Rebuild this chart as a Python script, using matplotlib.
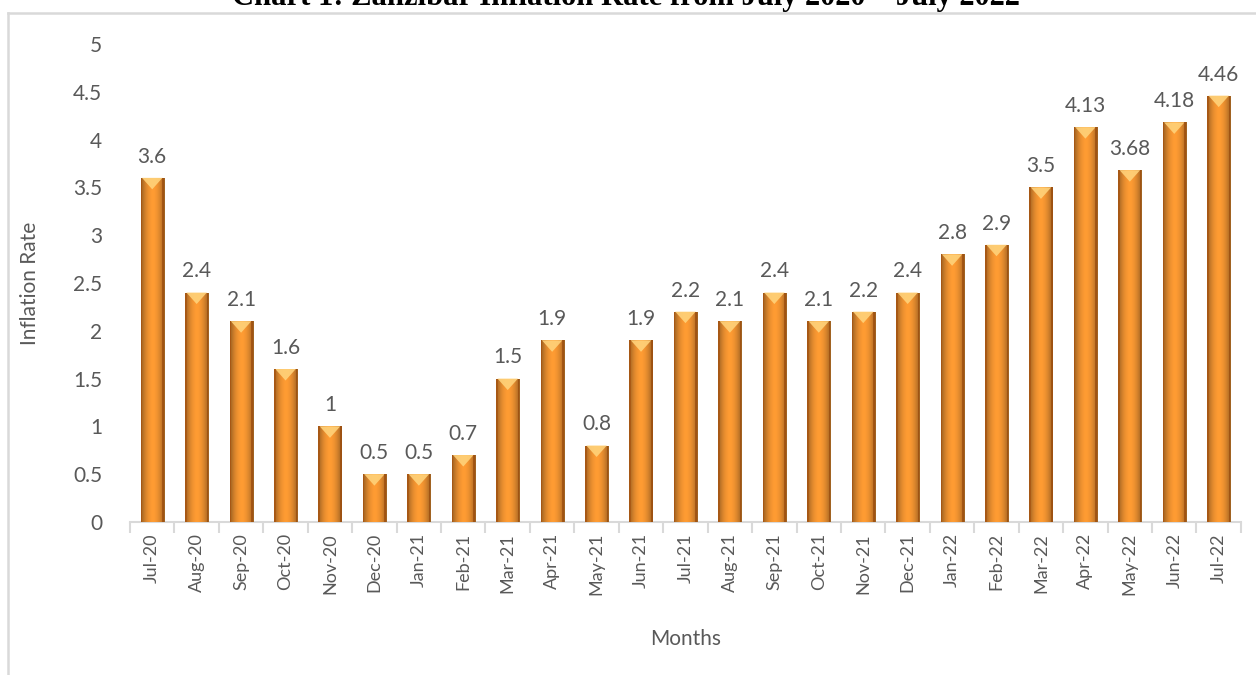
import numpy as np
import matplotlib
matplotlib.use("Agg")
import matplotlib.pyplot as plt
from matplotlib.lines import Line2D
from matplotlib.patches import Polygon

months = ["Jul-20", "Aug-20", "Sep-20", "Oct-20", "Nov-20", "Dec-20", "Jan-21",
          "Feb-21", "Mar-21", "Apr-21", "May-21", "Jun-21", "Jul-21", "Aug-21",
          "Sep-21", "Oct-21", "Nov-21", "Dec-21", "Jan-22", "Feb-22", "Mar-22",
          "Apr-22", "May-22", "Jun-22", "Jul-22"]
rates = [3.6, 2.4, 2.1, 1.6, 1, 0.5, 0.5, 0.7, 1.5, 1.9, 0.8, 1.9, 2.2, 2.1,
         2.4, 2.1, 2.2, 2.4, 2.8, 2.9, 3.5, 4.13, 3.68, 4.18, 4.46]
rate_labels = ["3.6", "2.4", "2.1", "1.6", "1", "0.5", "0.5", "0.7", "1.5", "1.9",
               "0.8", "1.9", "2.2", "2.1", "2.4", "2.1", "2.2", "2.4", "2.8", "2.9",
               "3.5", "4.13", "3.68", "4.18", "4.46"]
y_ticks = [0, 0.5, 1, 1.5, 2, 2.5, 3, 3.5, 4, 4.5, 5]

plt.rcParams['font.family'] = ['Lato', 'DejaVu Sans']
grey = "#595959"

fig = plt.figure(figsize=(12.56, 6.75), dpi=100)
ax = fig.add_axes([0.1035, 0.2267, 0.8845, 0.7081])

x = np.arange(len(months))
width = 0.52
bars = ax.bar(x, rates, width=width, color="#E5821F", zorder=2)

# horizontal gradient inside each bar (dark edges, light centre)
cols = np.linspace(-1, 1, 64)
shade = 1 - 0.4 * np.abs(cols) ** 1.8
base = np.array([0.97, 0.58, 0.17])
grad = np.clip(base[None, :] * shade[:, None] + 0.03, 0, 1)
img = grad[None, :, :]

for b, v in zip(bars, rates):
    x0 = b.get_x()
    x1 = x0 + b.get_width()
    im = ax.imshow(img, extent=[x0, x1, 0, v], aspect="auto", zorder=3,
                   interpolation="bilinear")
    im.set_clip_path(b)
    # bevel at the top
    h = 0.12
    cap = Polygon([(x0 + 0.03, v), (x1 - 0.03, v), ((x0 + x1) / 2, v - h)],
                  closed=True, facecolor="#FFD27A", edgecolor="none",
                  alpha=0.9, zorder=4)
    ax.add_patch(cap)
    ax.add_patch(Polygon([(x0, v), (x0 + 0.035, v), (x0 + 0.035, 0), (x0, 0)],
                         facecolor="#A9530F", edgecolor="none", alpha=0.7, zorder=4))
    ax.add_patch(Polygon([(x1 - 0.035, v), (x1, v), (x1, 0), (x1 - 0.035, 0)],
                         facecolor="#9A4A0C", edgecolor="none", alpha=0.7, zorder=4))

for xi, v, lab in zip(x, rates, rate_labels):
    ax.annotate(lab, (xi, v), xytext=(0, 8), textcoords="offset points",
                ha="center", va="bottom", fontsize=15, color=grey)

ax.set_xlim(-0.5, len(months) - 0.5)
ax.set_ylim(0, 5)
ax.set_yticks(y_ticks)
ax.set_yticklabels([f"{t:g}" for t in y_ticks], fontsize=15, color=grey)
ax.set_xticks(x)
ax.set_xticklabels(months, rotation=90, fontsize=13, color=grey)
ax.tick_params(axis="y", length=0, pad=20)
ax.tick_params(axis="x", length=0, pad=8)
ax.set_xticks(np.arange(-0.5, len(months)), minor=True)
ax.tick_params(axis="x", which="minor", length=8, color="#D9D9D9", width=1.5)

for s in ["top", "right", "left"]:
    ax.spines[s].set_visible(False)
ax.spines["bottom"].set_color("#D9D9D9")
ax.spines["bottom"].set_linewidth(1.5)

ax.set_ylabel("Inflation Rate", fontsize=15, color=grey, labelpad=24)
ax.set_xlabel("Months", fontsize=15, color=grey, labelpad=24)

# chart frame
fig.add_artist(Line2D([8 / 1256, 8 / 1256], [0, 1 - 13 / 675], color="#D9D9D9",
                      lw=1.8, transform=fig.transFigure))
fig.add_artist(Line2D([8 / 1256, 1], [1 - 13 / 675, 1 - 13 / 675], color="#D9D9D9",
                      lw=1.8, transform=fig.transFigure))

fig.text(0.498, 1 - 5 / 675, "Chart 1: Zanzibar Inflation Rate from July 2020 \u2013 July 2022",
         ha="center", va="baseline", fontsize=22, fontweight="bold",
         family=["Liberation Serif", "DejaVu Serif"], color="black")

fig.savefig("out.png", dpi=100)
